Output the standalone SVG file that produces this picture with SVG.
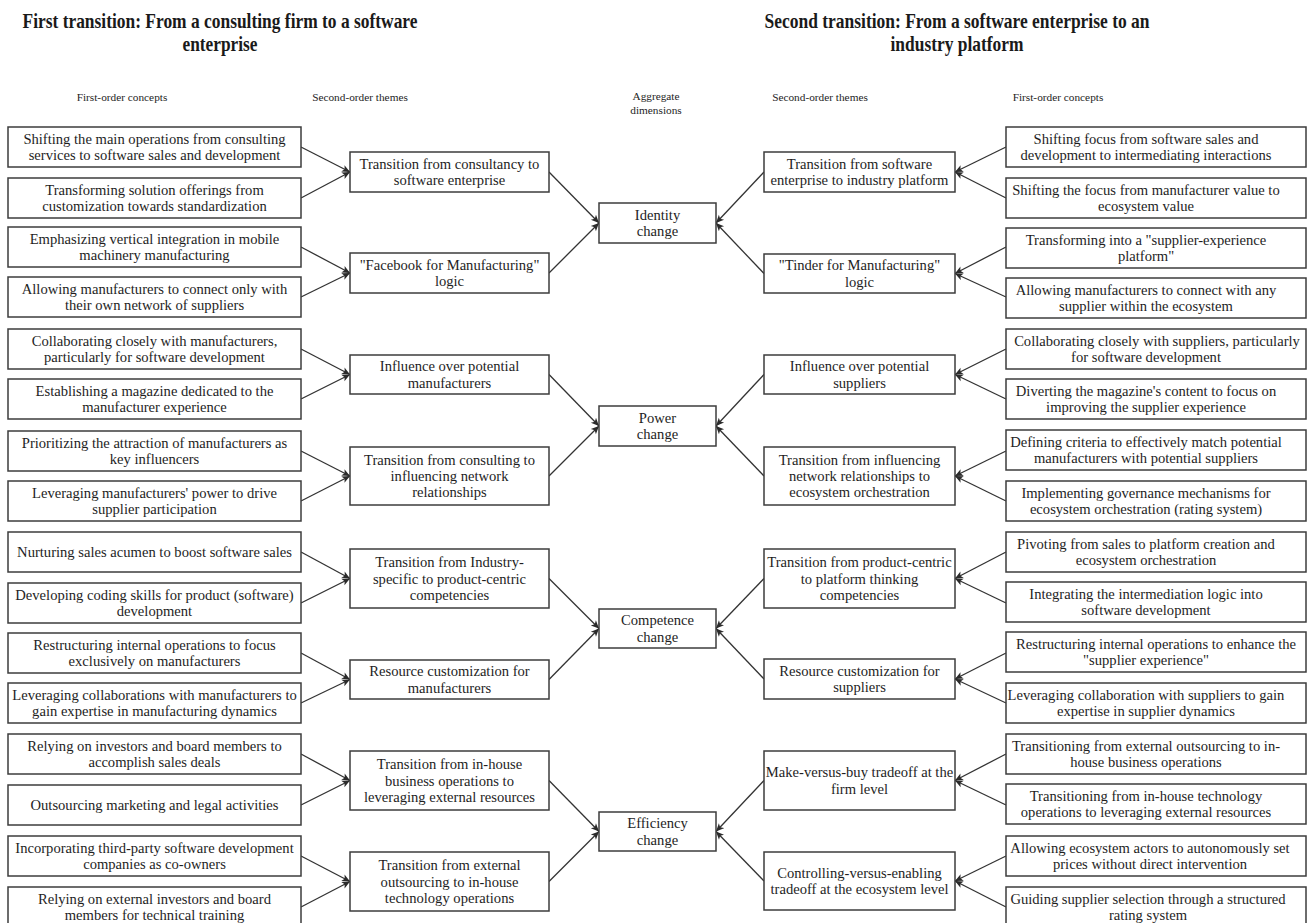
<svg xmlns="http://www.w3.org/2000/svg" width="1308" height="923" viewBox="0 0 1308 923">
  <style>
    .bg { fill: #ffffff; }
    .box { fill: #ffffff; stroke: #3c3c3c; stroke-width: 1.5; }
    .t { font-family: "Liberation Serif", "Times New Roman", serif; font-size: 14.6px; fill: #1e1e1e; text-anchor: middle; }
    .h { font-family: "Liberation Serif", "Times New Roman", serif; font-size: 11.3px; fill: #1e1e1e; text-anchor: middle; }
    .title { font-family: "Liberation Serif", "Times New Roman", serif; font-size: 21.5px; font-weight: bold; fill: #1a1a1a; text-anchor: middle; }
    .link { stroke: #333333; stroke-width: 1.3; fill: none; marker-end: url(#arrow); }
  </style>
  <defs>
    <marker id="arrow" viewBox="0 0 10 10" refX="10" refY="5" markerWidth="9" markerHeight="8" markerUnits="userSpaceOnUse" orient="auto">
      <path d="M0,0.5 L10,5 L0,9.5 L2.5,5 z" fill="#2b2b2b"/>
    </marker>
  </defs>
  <rect class="bg" x="0" y="0" width="1308" height="923"/>

  <!-- Titles -->
  <g id="titles">
    <text class="title" x="220" y="28" textLength="395" lengthAdjust="spacingAndGlyphs">First transition: From a consulting firm to a software</text>
    <text class="title" x="220" y="51" textLength="75" lengthAdjust="spacingAndGlyphs">enterprise</text>
    <text class="title" x="957" y="28" textLength="385" lengthAdjust="spacingAndGlyphs">Second transition: From a software enterprise to an</text>
    <text class="title" x="957" y="51" textLength="133" lengthAdjust="spacingAndGlyphs">industry platform</text>
  </g>

  <!-- Column headers -->
  <g id="headers">
    <text class="h" x="122" y="101">First-order concepts</text>
    <text class="h" x="360" y="101">Second-order themes</text>
    <text class="h" x="656" y="100">Aggregate</text>
    <text class="h" x="656" y="114">dimensions</text>
    <text class="h" x="820" y="101">Second-order themes</text>
    <text class="h" x="1058" y="101">First-order concepts</text>
  </g>

  <!-- Connectors -->
  <g id="connectors">
    <!-- left first-order to left second-order -->
    <line class="link" x1="301" y1="147" x2="350" y2="172"/>
    <line class="link" x1="301" y1="198" x2="350" y2="172"/>
    <line class="link" x1="301" y1="247" x2="350" y2="273"/>
    <line class="link" x1="301" y1="297" x2="350" y2="273"/>
    <line class="link" x1="301" y1="349" x2="350" y2="374.5"/>
    <line class="link" x1="301" y1="399" x2="350" y2="374.5"/>
    <line class="link" x1="301" y1="451" x2="350" y2="476"/>
    <line class="link" x1="301" y1="501" x2="350" y2="476"/>
    <line class="link" x1="301" y1="552" x2="350" y2="578.5"/>
    <line class="link" x1="301" y1="603" x2="350" y2="578.5"/>
    <line class="link" x1="301" y1="653" x2="350" y2="679.5"/>
    <line class="link" x1="301" y1="703" x2="350" y2="679.5"/>
    <line class="link" x1="301" y1="754" x2="350" y2="780.5"/>
    <line class="link" x1="301" y1="805" x2="350" y2="780.5"/>
    <line class="link" x1="301" y1="856" x2="350" y2="881.5"/>
    <line class="link" x1="301" y1="907" x2="350" y2="881.5"/>
    <!-- left second-order to aggregate -->
    <line class="link" x1="549" y1="172" x2="599" y2="223"/>
    <line class="link" x1="549" y1="273" x2="599" y2="223"/>
    <line class="link" x1="549" y1="374.5" x2="599" y2="426"/>
    <line class="link" x1="549" y1="476" x2="599" y2="426"/>
    <line class="link" x1="549" y1="578.5" x2="599" y2="628.5"/>
    <line class="link" x1="549" y1="679.5" x2="599" y2="628.5"/>
    <line class="link" x1="549" y1="780.5" x2="599" y2="831.5"/>
    <line class="link" x1="549" y1="881.5" x2="599" y2="831.5"/>
    <!-- right second-order to aggregate -->
    <line class="link" x1="764" y1="172" x2="716" y2="223"/>
    <line class="link" x1="764" y1="273.5" x2="716" y2="223"/>
    <line class="link" x1="764" y1="374.5" x2="716" y2="426"/>
    <line class="link" x1="764" y1="476" x2="716" y2="426"/>
    <line class="link" x1="764" y1="578.5" x2="716" y2="628.5"/>
    <line class="link" x1="764" y1="679" x2="716" y2="628.5"/>
    <line class="link" x1="764" y1="780.5" x2="716" y2="831.5"/>
    <line class="link" x1="764" y1="881" x2="716" y2="831.5"/>
    <!-- right first-order to right second-order -->
    <line class="link" x1="1006" y1="147" x2="955" y2="172"/>
    <line class="link" x1="1006" y1="198" x2="955" y2="172"/>
    <line class="link" x1="1006" y1="247" x2="955" y2="273.5"/>
    <line class="link" x1="1006" y1="297" x2="955" y2="273.5"/>
    <line class="link" x1="1006" y1="349" x2="955" y2="374.5"/>
    <line class="link" x1="1006" y1="399" x2="955" y2="374.5"/>
    <line class="link" x1="1006" y1="451" x2="955" y2="476"/>
    <line class="link" x1="1006" y1="501" x2="955" y2="476"/>
    <line class="link" x1="1006" y1="552" x2="955" y2="578.5"/>
    <line class="link" x1="1006" y1="603" x2="955" y2="578.5"/>
    <line class="link" x1="1006" y1="653" x2="955" y2="679"/>
    <line class="link" x1="1006" y1="703" x2="955" y2="679"/>
    <line class="link" x1="1006" y1="754" x2="955" y2="780.5"/>
    <line class="link" x1="1006" y1="805" x2="955" y2="780.5"/>
    <line class="link" x1="1006" y1="856" x2="955" y2="881"/>
    <line class="link" x1="1006" y1="907" x2="955" y2="881"/>
  </g>

  <!-- Left first-order concepts -->
  <g id="l1-01"><rect class="box" x="8" y="127" width="293" height="40"/><text class="t" x="154.5" y="143.9">Shifting the main operations from consulting</text><text class="t" x="154.5" y="160.2">services to software sales and development</text></g>
  <g id="l1-02"><rect class="box" x="8" y="178" width="293" height="40"/><text class="t" x="154.5" y="194.9">Transforming solution offerings from</text><text class="t" x="154.5" y="211.2">customization towards standardization</text></g>
  <g id="l1-03"><rect class="box" x="8" y="227" width="293" height="40"/><text class="t" x="154.5" y="243.9">Emphasizing vertical integration in mobile</text><text class="t" x="154.5" y="260.2">machinery manufacturing</text></g>
  <g id="l1-04"><rect class="box" x="8" y="277" width="293" height="40"/><text class="t" x="154.5" y="293.9">Allowing manufacturers to connect only with</text><text class="t" x="154.5" y="310.2">their own network of suppliers</text></g>
  <g id="l1-05"><rect class="box" x="8" y="329" width="293" height="40"/><text class="t" x="154.5" y="345.9">Collaborating closely with manufacturers,</text><text class="t" x="154.5" y="362.2">particularly for software development</text></g>
  <g id="l1-06"><rect class="box" x="8" y="379" width="293" height="40"/><text class="t" x="154.5" y="395.9">Establishing a magazine dedicated to the</text><text class="t" x="154.5" y="412.2">manufacturer experience</text></g>
  <g id="l1-07"><rect class="box" x="8" y="431" width="293" height="40"/><text class="t" x="154.5" y="447.9">Prioritizing the attraction of manufacturers as</text><text class="t" x="154.5" y="464.2">key influencers</text></g>
  <g id="l1-08"><rect class="box" x="8" y="481" width="293" height="40"/><text class="t" x="154.5" y="497.9">Leveraging manufacturers' power to drive</text><text class="t" x="154.5" y="514.2">supplier participation</text></g>
  <g id="l1-09"><rect class="box" x="8" y="532" width="293" height="40"/><text class="t" x="154.5" y="557">Nurturing sales acumen to boost software sales</text></g>
  <g id="l1-10"><rect class="box" x="8" y="583" width="293" height="40"/><text class="t" x="154.5" y="599.9">Developing coding skills for product (software)</text><text class="t" x="154.5" y="616.2">development</text></g>
  <g id="l1-11"><rect class="box" x="8" y="633" width="293" height="40"/><text class="t" x="154.5" y="649.9">Restructuring internal operations to focus</text><text class="t" x="154.5" y="666.2">exclusively on manufacturers</text></g>
  <g id="l1-12"><rect class="box" x="8" y="683" width="293" height="40"/><text class="t" x="154.5" y="699.9">Leveraging collaborations with manufacturers to</text><text class="t" x="154.5" y="716.2">gain expertise in manufacturing dynamics</text></g>
  <g id="l1-13"><rect class="box" x="8" y="734" width="293" height="40"/><text class="t" x="154.5" y="750.9">Relying on investors and board members to</text><text class="t" x="154.5" y="767.2">accomplish sales deals</text></g>
  <g id="l1-14"><rect class="box" x="8" y="785" width="293" height="40"/><text class="t" x="154.5" y="810">Outsourcing marketing and legal activities</text></g>
  <g id="l1-15"><rect class="box" x="8" y="836" width="293" height="40"/><text class="t" x="154.5" y="852.9">Incorporating third-party software development</text><text class="t" x="154.5" y="869.2">companies as co-owners</text></g>
  <g id="l1-16"><rect class="box" x="8" y="887" width="293" height="40"/><text class="t" x="154.5" y="903.9">Relying on external investors and board</text><text class="t" x="154.5" y="920.2">members for technical training</text></g>

  <!-- Left second-order themes -->
  <g id="l2-a"><rect class="box" x="350" y="152" width="199" height="40"/><text class="t" x="449.5" y="168.9">Transition from consultancy to</text><text class="t" x="449.5" y="185.2">software enterprise</text></g>
  <g id="l2-b"><rect class="box" x="350" y="253" width="199" height="40"/><text class="t" x="449.5" y="269.9">"Facebook for Manufacturing"</text><text class="t" x="449.5" y="286.2">logic</text></g>
  <g id="l2-c"><rect class="box" x="350" y="355" width="199" height="39"/><text class="t" x="449.5" y="371.4">Influence over potential</text><text class="t" x="449.5" y="387.7">manufacturers</text></g>
  <g id="l2-d"><rect class="box" x="350" y="447" width="199" height="58"/><text class="t" x="449.5" y="464.7">Transition from consulting to</text><text class="t" x="449.5" y="481">influencing network</text><text class="t" x="449.5" y="497.3">relationships</text></g>
  <g id="l2-e"><rect class="box" x="350" y="549" width="199" height="59"/><text class="t" x="449.5" y="567.2">Transition from Industry-</text><text class="t" x="449.5" y="583.5">specific to product-centric</text><text class="t" x="449.5" y="599.8">competencies</text></g>
  <g id="l2-f"><rect class="box" x="350" y="660" width="199" height="39"/><text class="t" x="449.5" y="676.4">Resource customization for</text><text class="t" x="449.5" y="692.7">manufacturers</text></g>
  <g id="l2-g"><rect class="box" x="350" y="751" width="199" height="59"/><text class="t" x="449.5" y="769.2">Transition from in-house</text><text class="t" x="449.5" y="785.5">business operations to</text><text class="t" x="449.5" y="801.8">leveraging external resources</text></g>
  <g id="l2-h"><rect class="box" x="350" y="852" width="199" height="59"/><text class="t" x="449.5" y="870.2">Transition from external</text><text class="t" x="449.5" y="886.5">outsourcing to in-house</text><text class="t" x="449.5" y="902.8">technology operations</text></g>

  <!-- Aggregate dimensions -->
  <g id="agg-identity"><rect class="box" x="599" y="203" width="117" height="40"/><text class="t" x="657.5" y="219.9">Identity</text><text class="t" x="657.5" y="236.2">change</text></g>
  <g id="agg-power"><rect class="box" x="599" y="406" width="117" height="40"/><text class="t" x="657.5" y="422.9">Power</text><text class="t" x="657.5" y="439.2">change</text></g>
  <g id="agg-competence"><rect class="box" x="599" y="609" width="117" height="39"/><text class="t" x="657.5" y="625.4">Competence</text><text class="t" x="657.5" y="641.7">change</text></g>
  <g id="agg-efficiency"><rect class="box" x="599" y="812" width="117" height="39"/><text class="t" x="657.5" y="828.4">Efficiency</text><text class="t" x="657.5" y="844.7">change</text></g>

  <!-- Right second-order themes -->
  <g id="r2-a"><rect class="box" x="764" y="152" width="191" height="40"/><text class="t" x="859.5" y="168.9">Transition from software</text><text class="t" x="859.5" y="185.2">enterprise to industry platform</text></g>
  <g id="r2-b"><rect class="box" x="764" y="254" width="191" height="39"/><text class="t" x="859.5" y="270.4">"Tinder for Manufacturing"</text><text class="t" x="859.5" y="286.7">logic</text></g>
  <g id="r2-c"><rect class="box" x="764" y="355" width="191" height="39"/><text class="t" x="859.5" y="371.4">Influence over potential</text><text class="t" x="859.5" y="387.7">suppliers</text></g>
  <g id="r2-d"><rect class="box" x="764" y="447" width="191" height="58"/><text class="t" x="859.5" y="464.7">Transition from influencing</text><text class="t" x="859.5" y="481">network relationships to</text><text class="t" x="859.5" y="497.3">ecosystem orchestration</text></g>
  <g id="r2-e"><rect class="box" x="764" y="549" width="191" height="59"/><text class="t" x="859.5" y="567.2">Transition from product-centric</text><text class="t" x="859.5" y="583.5">to platform thinking</text><text class="t" x="859.5" y="599.8">competencies</text></g>
  <g id="r2-f"><rect class="box" x="764" y="659" width="191" height="40"/><text class="t" x="859.5" y="675.9">Resource customization for</text><text class="t" x="859.5" y="692.2">suppliers</text></g>
  <g id="r2-g"><rect class="box" x="764" y="751" width="191" height="59"/><text class="t" x="859.5" y="777.4">Make-versus-buy tradeoff at the</text><text class="t" x="859.5" y="793.7">firm level</text></g>
  <g id="r2-h"><rect class="box" x="764" y="852" width="191" height="58"/><text class="t" x="859.5" y="877.9">Controlling-versus-enabling</text><text class="t" x="859.5" y="894.2">tradeoff at the ecosystem level</text></g>

  <!-- Right first-order concepts -->
  <g id="r1-01"><rect class="box" x="1006" y="127" width="300" height="40"/><text class="t" x="1146" y="143.9">Shifting focus from software sales and</text><text class="t" x="1146" y="160.2">development to intermediating interactions</text></g>
  <g id="r1-02"><rect class="box" x="1006" y="178" width="300" height="40"/><text class="t" x="1146" y="194.9">Shifting the focus from manufacturer value to</text><text class="t" x="1146" y="211.2">ecosystem value</text></g>
  <g id="r1-03"><rect class="box" x="1006" y="228" width="300" height="40"/><text class="t" x="1146" y="244.9">Transforming into a "supplier-experience</text><text class="t" x="1146" y="261.2">platform"</text></g>
  <g id="r1-04"><rect class="box" x="1006" y="278" width="300" height="40"/><text class="t" x="1146" y="294.9">Allowing manufacturers to connect with any</text><text class="t" x="1146" y="311.2">supplier within the ecosystem</text></g>
  <g id="r1-05"><rect class="box" x="1006" y="329" width="300" height="40"/><text class="t" x="1157" y="345.9">Collaborating closely with suppliers, particularly</text><text class="t" x="1146" y="362.2">for software development</text></g>
  <g id="r1-06"><rect class="box" x="1006" y="379" width="300" height="40"/><text class="t" x="1146" y="395.9">Diverting the magazine's content to focus on</text><text class="t" x="1146" y="412.2">improving the supplier experience</text></g>
  <g id="r1-07"><rect class="box" x="1006" y="430" width="300" height="40"/><text class="t" x="1146" y="446.9">Defining criteria to effectively match potential</text><text class="t" x="1146" y="463.2">manufacturers with potential suppliers</text></g>
  <g id="r1-08"><rect class="box" x="1006" y="481" width="300" height="40"/><text class="t" x="1146" y="497.9">Implementing governance mechanisms for</text><text class="t" x="1146" y="514.2">ecosystem orchestration (rating system)</text></g>
  <g id="r1-09"><rect class="box" x="1006" y="532" width="300" height="40"/><text class="t" x="1146" y="548.9">Pivoting from sales to platform creation and</text><text class="t" x="1146" y="565.2">ecosystem orchestration</text></g>
  <g id="r1-10"><rect class="box" x="1006" y="582" width="300" height="40"/><text class="t" x="1146" y="598.9">Integrating the intermediation logic into</text><text class="t" x="1146" y="615.2">software development</text></g>
  <g id="r1-11"><rect class="box" x="1006" y="632" width="300" height="40"/><text class="t" x="1156" y="648.9">Restructuring internal operations to enhance the</text><text class="t" x="1146" y="665.2">"supplier experience"</text></g>
  <g id="r1-12"><rect class="box" x="1006" y="683" width="300" height="40"/><text class="t" x="1146" y="699.9">Leveraging collaboration with suppliers to gain</text><text class="t" x="1146" y="716.2">expertise in supplier dynamics</text></g>
  <g id="r1-13"><rect class="box" x="1006" y="734" width="300" height="40"/><text class="t" x="1146" y="750.9">Transitioning from external outsourcing to in-</text><text class="t" x="1146" y="767.2">house business operations</text></g>
  <g id="r1-14"><rect class="box" x="1006" y="784" width="300" height="40"/><text class="t" x="1146" y="800.9">Transitioning from in-house technology</text><text class="t" x="1146" y="817.2">operations to leveraging external resources</text></g>
  <g id="r1-15"><rect class="box" x="1006" y="836" width="300" height="40"/><text class="t" x="1150" y="852.9">Allowing ecosystem actors to autonomously set</text><text class="t" x="1150" y="869.2">prices without direct intervention</text></g>
  <g id="r1-16"><rect class="box" x="1006" y="887" width="300" height="40"/><text class="t" x="1148" y="903.9">Guiding supplier selection through a structured</text><text class="t" x="1148" y="920.2">rating system</text></g>
</svg>
